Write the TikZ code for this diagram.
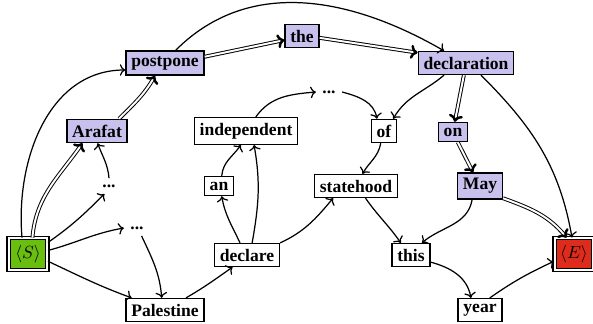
\documentclass[tikz,border=0pt]{standalone}
\usepackage{fontspec}
\setmainfont{Liberation Serif}
\usetikzlibrary{arrows.meta}
\definecolor{pathblue}{RGB}{200,193,237}
\definecolor{startgreen}{RGB}{106,190,16}
\definecolor{endred}{RGB}{222,44,28}
\begin{document}
\begin{tikzpicture}[x=0.02cm,y=-0.02cm,
        word/.style={draw=black,line width=0.8pt,fill=white,inner sep=3pt,font=\bfseries},
        best/.style={word,fill=pathblue},
        dots/.style={inner sep=3.5pt,font=\bfseries},
        term/.style={draw=black,line width=0.7pt,double,double distance=1.2pt,minimum width=22pt,minimum height=18pt,inner sep=2pt},
        arc/.style={->,line width=0.7pt},
        bestarc/.style={-{To[length=4pt,width=8pt,line width=1.4pt]},line width=0.55pt,double,double distance=1.1pt}]
        \useasboundingbox (0,0) rectangle (593,324);
        \node [term,fill=startgreen] (S) at (28,254) {$\langle S\rangle$};
        \node [term,fill=endred] (E) at (574,254) {$\langle E\rangle$};
        \node [best] (arafat) at (97,131) {Arafat};
        \node [best] (postpone) at (165,63) {postpone};
        \node [best] (the) at (302,36) {the};
        \node [best] (declaration) at (466,63) {declaration};
        \node [best] (on) at (453,132) {on};
        \node [best] (may) at (480,186) {May};
        \node [word] (independent) at (246,131) {independent};
        \node [word] (an) at (219,186) {an};
        \node [word] (declare) at (247,255) {declare};
        \node [word] (palestine) at (165,310) {Palestine};
        \node [word] (of) at (384,131) {of};
        \node [word] (statehood) at (356,186) {statehood};
        \node [word] (this) at (411,255) {this};
        \node [word] (year) at (480,310) {year};
        \node [dots] (dotsA) at (109,186) {...};
        \node [dots] (dotsB) at (137,228) {...};
        \node [dots] (dotsC) at (329,92) {...};
        % best path
        \draw [bestarc] (S.75) to[out=85,in=235] (arafat.-140);
        \draw [bestarc] (arafat.29) to[out=45,in=-120] (postpone.-128);
        \draw [bestarc] (postpone.9) -- (the.193);
        \draw [bestarc] (the.-6) -- (declaration.168);
        \draw [bestarc] (declaration.-100) -- (on.80);
        \draw [bestarc] (on.-65) -- (may.117);
        \draw [bestarc] (may.-28) to[out=-20,in=130] (E.114);
        % other arcs
        \draw [arc] (S.110) to[out=95,in=180] (postpone.190);
        \draw [arc] (S.30) to[out=35,in=225] (dotsA.-120);
        \draw [arc] (S.10) to[out=15,in=190] (dotsB.west);
        \draw [arc] (S.-20) to[out=-25,in=160] (palestine.160);
        \draw [arc] (dotsA.north) to[out=95,in=-70] (arafat.-87);
        \draw [arc] (dotsB.-60) to[out=-65,in=95] (palestine.105);
        \draw [arc] (postpone.50) to[out=45,in=150] (declaration.151);
        \draw [arc] (declaration.209) to[out=220,in=60] (of.53);
        \draw [arc] (declaration.-39) to[out=-45,in=100] (E.97);
        \draw [arc] (may.-120) to[out=-100,in=40] (this.48);
        \draw [arc] (independent.55) to[out=55,in=185] (dotsC.west);
        \draw [arc] (dotsC.east) to[out=-15,in=100] (of.120);
        \draw [arc] (of.-105) to[out=-100,in=60] (statehood.62);
        \draw [arc] (an.75) to[out=85,in=235] (independent.-110);
        \draw [arc] (declare.120) to[out=115,in=-80] (an.-75);
        \draw [arc] (declare.67) to[out=80,in=-80] (independent.-60);
        \draw [arc] (declare.20) to[out=25,in=230] (statehood.208);
        \draw [arc] (palestine.30) to[out=30,in=215] (declare.-140);
        \draw [arc] (statehood.-52) to[out=-55,in=125] (this.130);
        \draw [arc] (this.-20) to[out=-15,in=100] (year.127);
        \draw [arc] (year.51) to[out=35,in=205] (E.200);
\end{tikzpicture}
\end{document}
